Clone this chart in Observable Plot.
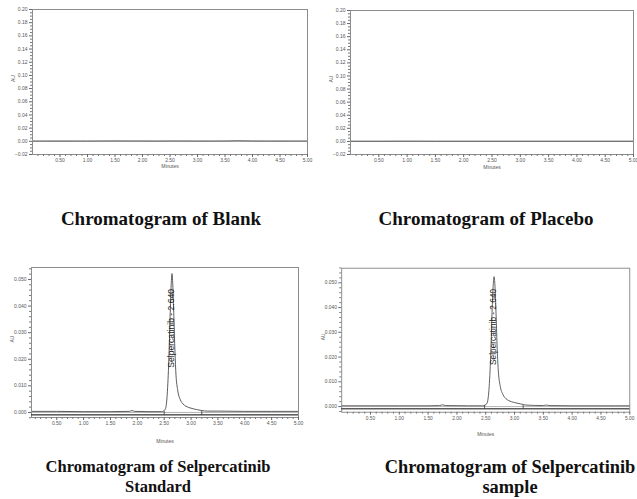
<!DOCTYPE html>
<html><head><meta charset="utf-8">
<script src="https://cdn.jsdelivr.net/npm/d3@7"></script>
<script src="https://cdn.jsdelivr.net/npm/@observablehq/plot@0.6"></script>
<style>
html,body{margin:0;padding:0;background:#fff;overflow:hidden;}
#root{position:relative;width:637px;height:499px;overflow:hidden;background:#fff;}
.panel{position:absolute;}
.cap{position:absolute;font-family:"Liberation Serif","Times New Roman",serif;font-weight:bold;color:#111;white-space:nowrap;transform:translate(-50%,-50%);}
</style></head><body><div id="root"></div>
<script>
// ---- data ----
const xTickLabels = [0.5, 1.0, 1.5, 2.0, 2.5, 3.0, 3.5, 4.0, 4.5, 5.0];
const yTicksTop = [-0.02, 0.00, 0.02, 0.04, 0.06, 0.08, 0.10, 0.12, 0.14, 0.16, 0.18, 0.20];
const yTicksBottom = [0.000, 0.010, 0.020, 0.030, 0.040, 0.050];

const blankTime  = [0, 0.25, 0.5, 0.75, 1.0, 1.25, 1.5, 1.75, 2.0, 2.25, 2.5, 2.75, 3.0, 3.25, 3.5, 3.75, 4.0, 4.25, 4.5, 4.75, 5.0];
const blankAU    = [0.0004, 0.0004, 0.0004, 0.0004, 0.0004, 0.0005, 0.0006, 0.0005, 0.0005, 0.0004, 0.0005, 0.0005, 0.0004, 0.0004, 0.0005, 0.0008, 0.0005, 0.0004, 0.0004, 0.0004, 0.0004];

const placeboTime = [0, 0.25, 0.5, 0.75, 1.0, 1.25, 1.5, 1.75, 2.0, 2.25, 2.5, 2.75, 3.0, 3.25, 3.5, 3.75, 4.0, 4.25, 4.5, 4.75, 5.0];
const placeboAU   = [0.0003, 0.0003, 0.0003, 0.0004, 0.0004, 0.0004, 0.0003, 0.0003, 0.0003, 0.0003, 0.0003, 0.0003, 0.0003, 0.0003, 0.0003, 0.0003, 0.0003, 0.0003, 0.0003, 0.0003, 0.0003];

const standardTime = [0.03, 0.5, 1.0, 1.5, 1.85, 1.9, 1.95, 2.2, 2.45, 2.52, 2.56, 2.59, 2.61, 2.63, 2.645, 2.66, 2.68, 2.70, 2.72, 2.75, 2.80, 2.85, 2.90, 3.0, 3.1, 3.2, 3.3, 3.5, 4.0, 4.5, 5.0];
const standardAU   = [0.0004, 0.0004, 0.0003, 0.0003, 0.0004, 0.0007, 0.0004, 0.0003, 0.0003, 0.0012, 0.008, 0.022, 0.036, 0.048, 0.0522, 0.048, 0.036, 0.023, 0.014, 0.0085, 0.0048, 0.0032, 0.0024, 0.0016, 0.0011, 0.0007, 0.0005, 0.0005, 0.0004, 0.0004, 0.0004];
const standardMarks = [2.50, 3.20];

const sampleTime = [0, 0.5, 1.0, 1.5, 1.7, 1.75, 1.8, 2.2, 2.45, 2.52, 2.56, 2.59, 2.61, 2.63, 2.645, 2.66, 2.68, 2.70, 2.72, 2.75, 2.80, 2.85, 2.90, 3.0, 3.1, 3.2, 3.5, 3.55, 3.6, 4.0, 4.5, 5.0];
const sampleAU   = [0.0003, 0.0003, 0.0003, 0.0003, 0.0004, 0.0007, 0.0004, 0.0003, 0.0003, 0.0012, 0.008, 0.023, 0.038, 0.049, 0.0525, 0.049, 0.037, 0.023, 0.014, 0.0085, 0.0048, 0.0032, 0.0024, 0.0016, 0.0011, 0.0006, 0.0004, 0.0006, 0.0004, 0.0003, 0.0003, 0.0003];
const sampleMarks = [2.48, 3.15];

const peakName = "Selpercatinib";
const peakRT = 2.640;
const peakLabelY = 0.0168;

const captions = [
  {lines: ["Chromatogram of Blank"], x: 161, y: 219, size: 19},
  {lines: ["Chromatogram of Placebo"], x: 486, y: 219, size: 19},
  {lines: ["Chromatogram of Selpercatinib", "Standard"], x: 158, y: 467, size: 16.5},
  {lines: ["Chromatogram of Selpercatinib", "sample"], x: 510, y: 467, size: 18.4}
];

// ---- drawing ----
const root = document.getElementById("root");
const font = "Liberation Sans, Arial, sans-serif";
const toRows = (t, v) => t.map((d, i) => ({t: d, au: v[i]}));
const xMinor = d3.range(1, 50).map(d => d / 10).filter(d => Math.abs(d * 2 - Math.round(d * 2)) > 1e-6);

function panel(o) {
  const yMinor = d3.range(Math.round(o.yDomain[0] / o.yStep), Math.round(o.yDomain[1] / o.yStep) + 1)
    .map(k => k * o.yStep).filter(v => !o.yTicks.some(t => Math.abs(t - v) < o.yStep / 10));
  const marks = [
    Plot.ruleY([0], {stroke: "#a0a0a0", strokeWidth: 0.8}),
    Plot.line(toRows(o.time, o.au), {x: "t", y: "au", stroke: "#4a4a4a", strokeWidth: 0.9, curve: "monotone-x"}),
    Plot.frame({stroke: "#8c8c8c", strokeWidth: 1}),
    Plot.axisX({ticks: xTickLabels, tickSize: 3, tickPadding: 1, tickFormat: d3.format(".2f"), fontSize: 5, label: null, stroke: "#666", fill: "#555"}),
    Plot.axisX({ticks: xMinor, tickSize: 2, tickFormat: () => "", label: null, stroke: "#777"}),
    Plot.axisY({ticks: o.yTicks, tickSize: 3, tickPadding: 2, tickFormat: d3.format(o.yFmt), fontSize: 5, label: null, stroke: "#666", fill: "#555"}),
    Plot.axisY({ticks: yMinor, tickSize: 2, tickFormat: () => "", label: null, stroke: "#777"}),
    Plot.text(["Minutes"], {frameAnchor: "bottom", dy: o.minutesDy, fontSize: 5, fill: "#555", fontFamily: font}),
    Plot.text(["AU"], {frameAnchor: "left", dx: o.auDx, rotate: -90, fontSize: 5, fill: "#555", fontFamily: font})
  ];
  if (o.marks) {
    marks.push(Plot.ruleX(o.marks, {x: d => d, y1: -0.0012, y2: 0.0005, stroke: "#444", strokeWidth: 0.9}));
    marks.push(Plot.tickY(o.marks.map(m => ({m})), {x1: d => d.m - 0.03, x2: d => d.m + 0.03, y: () => -0.0009, stroke: "#444", strokeWidth: 0.9}));
  }
  if (o.label) {
    marks.push(Plot.text([o.label], {x: () => peakRT, y: () => peakLabelY, text: d => d, rotate: -90, textAnchor: "start", fontSize: 8.6, fill: "#1a1a1a", fontFamily: font}));
  }
  const svg = Plot.plot({
    width: o.width, height: o.height,
    marginLeft: o.ml, marginRight: o.mr, marginTop: o.mt, marginBottom: o.mb,
    x: {domain: o.xDomain}, y: {domain: o.yDomain},
    style: {fontFamily: font, background: "transparent", overflow: "visible"},
    marks
  });
  const div = document.createElement("div");
  div.className = "panel";
  div.style.left = o.left + "px";
  div.style.top = o.top + "px";
  div.appendChild(svg);
  root.appendChild(div);
}

panel({left: 0, top: 0, width: 318, height: 175, ml: 32, mr: 11, mt: 9, mb: 21,
  xDomain: [0, 5], yDomain: [-0.02, 0.20], yTicks: yTicksTop, yStep: 0.005, yFmt: ".2f",
  time: blankTime, au: blankAU, minutesDy: 13, auDx: -19});
panel({left: 318, top: 0, width: 319, height: 175, ml: 32, mr: 4, mt: 10, mb: 21,
  xDomain: [0, 5], yDomain: [-0.02, 0.20], yTicks: yTicksTop, yStep: 0.005, yFmt: ".2f",
  time: placeboTime, au: placeboAU, minutesDy: 14, auDx: -19});
panel({left: 0, top: 260, width: 318, height: 190, ml: 31, mr: 20, mt: 7, mb: 33,
  xDomain: [0.03, 5], yDomain: [-0.0019, 0.0545], yTicks: yTicksBottom, yStep: 0.002, yFmt: ".3f",
  time: standardTime, au: standardAU, marks: standardMarks, label: peakName + " - " + peakRT.toFixed(3),
  minutesDy: 25, auDx: -19});
panel({left: 318, top: 260, width: 330, height: 190, ml: 24, mr: 8, mt: 8, mb: 33,
  xDomain: [0, 5], yDomain: [-0.0023, 0.0559], yTicks: yTicksBottom, yStep: 0.002, yFmt: ".3f",
  time: sampleTime, au: sampleAU, marks: sampleMarks, label: peakName + " - " + peakRT.toFixed(3),
  minutesDy: 25, auDx: -19});

for (const c of captions) {
  c.lines.forEach((line, i) => {
    const d = document.createElement("div");
    d.className = "cap";
    d.textContent = line;
    d.style.fontSize = c.size + "px";
    d.style.left = c.x + "px";
    d.style.top = (c.y + i * 20) + "px";
    root.appendChild(d);
  });
}
</script>
</body></html>
